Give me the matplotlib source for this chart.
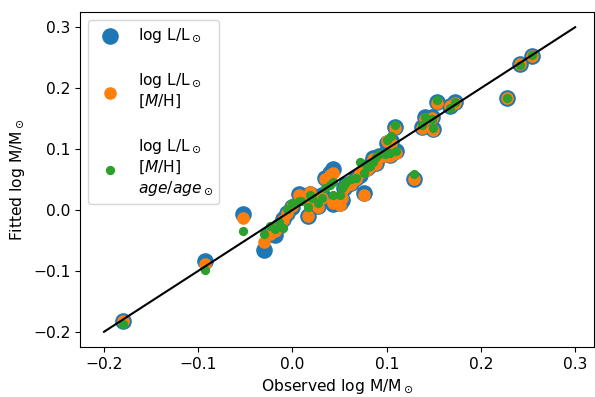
import numpy as np
import matplotlib
matplotlib.use('Agg')
import matplotlib.pyplot as plt

plt.rcParams['font.size'] = 11.2

# observed masses and the three fitted versions (log M/Msun)
observed = [-0.180, -0.093, -0.053, -0.030, -0.024, -0.019, -0.014, -0.010,
            -0.006, 0.000, 0.007, 0.009, 0.016, 0.019, 0.021, 0.027,
            0.031, 0.034, 0.040, 0.043, 0.043, 0.050, 0.053, 0.055,
            0.057, 0.062, 0.067, 0.072, 0.076, 0.079, 0.082, 0.085,
            0.089, 0.092, 0.098, 0.100, 0.103, 0.105, 0.109, 0.110,
            0.129, 0.137, 0.141, 0.148, 0.149, 0.153, 0.167, 0.172,
            0.228, 0.241, 0.254]
fit_lum = [-0.182, -0.084, -0.007, -0.066, -0.040, -0.041, -0.026, -0.015,
           -0.005, 0.005, 0.026, 0.021, -0.010, 0.027, 0.012, 0.007,
           0.025, 0.053, 0.060, 0.068, 0.009, 0.012, 0.017, 0.036,
           0.041, 0.045, 0.053, 0.058, 0.028, 0.069, 0.074, 0.085,
           0.077, 0.089, 0.092, 0.110, 0.090, 0.114, 0.137, 0.096,
           0.051, 0.137, 0.152, 0.153, 0.133, 0.178, 0.170, 0.177,
           0.184, 0.240, 0.252]
fit_lum_mh = [-0.182, -0.088, -0.013, -0.053, -0.039, -0.034, -0.028, -0.017,
              -0.005, 0.007, 0.024, 0.018, -0.010, 0.029, 0.012, 0.005,
              0.020, 0.051, 0.058, 0.060, 0.012, 0.008, 0.019, 0.036,
              0.041, 0.043, 0.051, 0.061, 0.025, 0.066, 0.072, 0.083,
              0.075, 0.087, 0.089, 0.113, 0.088, 0.110, 0.135, 0.094,
              0.051, 0.135, 0.150, 0.151, 0.132, 0.176, 0.170, 0.175,
              0.184, 0.240, 0.252]
fit_lum_mh_age = [-0.188, -0.099, -0.035, -0.040, -0.026, -0.031, -0.020, -0.030,
                  0.002, 0.012, 0.015, 0.015, 0.005, 0.024, 0.020, 0.011,
                  0.020, 0.036, 0.041, 0.046, 0.025, 0.025, 0.036, 0.041,
                  0.046, 0.051, 0.053, 0.078, 0.061, 0.071, 0.072, 0.078,
                  0.087, 0.092, 0.092, 0.115, 0.093, 0.122, 0.140, 0.096,
                  0.059, 0.139, 0.153, 0.150, 0.134, 0.180, 0.168, 0.178,
                  0.184, 0.238, 0.254]

fig, ax = plt.subplots(figsize=(5.95, 3.97), dpi=100)
fig.subplots_adjust(left=80/595, right=594/595, top=1-12/397, bottom=1-347/397)

ax.scatter(observed, fit_lum, s=120, color='C0',
           label='log L/L$_\\odot$')
ax.scatter(observed, fit_lum_mh, s=65, color='C1',
           label='log L/L$_\\odot$\n[$M$/H]')
ax.scatter(observed, fit_lum_mh_age, s=32, color='C2',
           label='log L/L$_\\odot$\n[$M$/H]\n$age/age_\\odot$')
ax.plot([-0.2, 0.3], [-0.2, 0.3], 'k-')

ax.set_xlim(-0.2255, 0.320)
ax.set_ylim(-0.225, 0.325)
ax.set_xlabel('Observed log M/M$_\\odot$')
ax.set_ylabel('Fitted log M/M$_\\odot$')
ax.legend(loc='upper left', labelspacing=1.75)

fig.savefig('out.png', dpi=100)
